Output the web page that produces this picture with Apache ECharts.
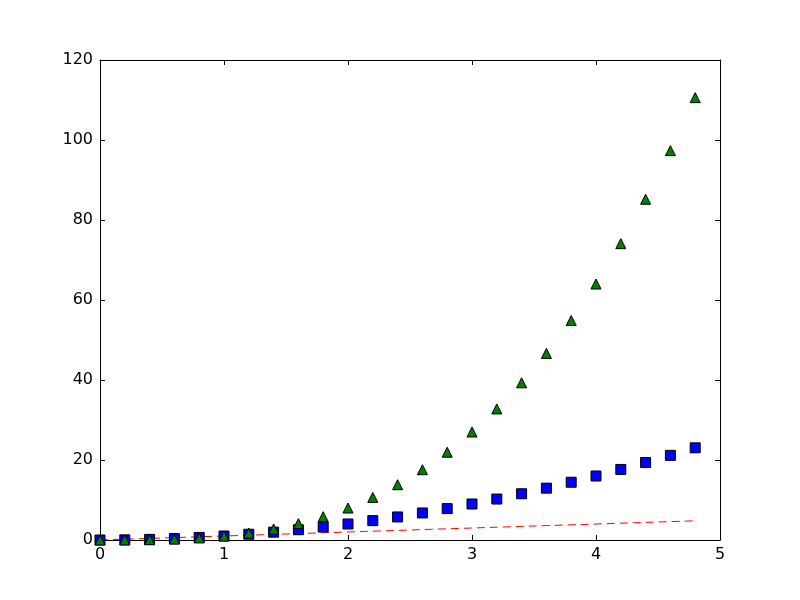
<!DOCTYPE html>
<html>
<head>
<meta charset="utf-8">
<script src="https://cdn.jsdelivr.net/npm/echarts@6/dist/echarts.min.js"></script>
<style>
html, body { margin: 0; padding: 0; background: #fff; }
#chart { width: 800px; height: 600px; }
</style>
</head>
<body>
<div id="chart"></div>
<script>
// x values and the three series
var tVals = [0, 0.2, 0.4, 0.6, 0.8, 1.0, 1.2, 1.4, 1.6, 1.8, 2.0, 2.2, 2.4, 2.6, 2.8, 3.0, 3.2, 3.4, 3.6, 3.8, 4.0, 4.2, 4.4, 4.6, 4.8];
var linVals = [0, 0.2, 0.4, 0.6, 0.8, 1.0, 1.2, 1.4, 1.6, 1.8, 2.0, 2.2, 2.4, 2.6, 2.8, 3.0, 3.2, 3.4, 3.6, 3.8, 4.0, 4.2, 4.4, 4.6, 4.8];
var sqVals = [0, 0.04, 0.16, 0.36, 0.64, 1.0, 1.44, 1.96, 2.56, 3.24, 4.0, 4.84, 5.76, 6.76, 7.84, 9.0, 10.24, 11.56, 12.96, 14.44, 16.0, 17.64, 19.36, 21.16, 23.04];
var cubeVals = [0, 0.008, 0.064, 0.216, 0.512, 1.0, 1.728, 2.744, 4.096, 5.832, 8.0, 10.648, 13.824, 17.576, 21.952, 27.0, 32.768, 39.304, 46.656, 54.872, 64.0, 74.088, 85.184, 97.336, 110.592];

function pairs(xs, ys) {
    var out = [];
    for (var i = 0; i < xs.length; i++) out.push([xs[i], ys[i]]);
    return out;
}

var font = 'DejaVu Sans';
var lineSt = { show: true, onZero: false, lineStyle: { color: '#000', width: 1 } };
var tickSt = { show: true, inside: true, length: 5, lineStyle: { color: '#000', width: 1 } };

var chart = echarts.init(document.getElementById('chart'));
chart.setOption({
    animation: false,
    backgroundColor: '#fff',
    grid: { left: 100, right: 80, top: 60, bottom: 60 },
    xAxis: [
        { type: 'value', min: 0, max: 5, interval: 1, position: 'bottom',
          axisLine: lineSt, axisTick: tickSt, splitLine: { show: false },
          axisLabel: { color: '#000', fontFamily: font, fontSize: 16, margin: 7 } },
        { type: 'value', min: 0, max: 5, interval: 1, position: 'top',
          axisLine: lineSt, axisTick: tickSt, splitLine: { show: false },
          axisLabel: { show: false } }
    ],
    yAxis: [
        { type: 'value', min: 0, max: 120, interval: 20, position: 'left',
          axisLine: lineSt, axisTick: tickSt, splitLine: { show: false },
          axisLabel: { color: '#000', fontFamily: font, fontSize: 16, margin: 7 } },
        { type: 'value', min: 0, max: 120, interval: 20, position: 'right',
          axisLine: lineSt, axisTick: tickSt, splitLine: { show: false },
          axisLabel: { show: false } }
    ],
    series: [
        { type: 'line', data: pairs(tVals, linVals), showSymbol: false, symbol: 'none',
          lineStyle: { color: '#ff0000', width: 1, type: [8, 5] }, z: 2 },
        { type: 'scatter', data: pairs(tVals, sqVals), symbol: 'rect', symbolSize: 10,
          itemStyle: { color: '#0000ff', borderColor: '#000', borderWidth: 1, opacity: 1 }, z: 3 },
        { type: 'scatter', data: pairs(tVals, cubeVals), symbol: 'triangle', symbolSize: 10,
          itemStyle: { color: '#008000', borderColor: '#000', borderWidth: 1, opacity: 1 }, z: 4 }
    ]
});
</script>
</body>
</html>
